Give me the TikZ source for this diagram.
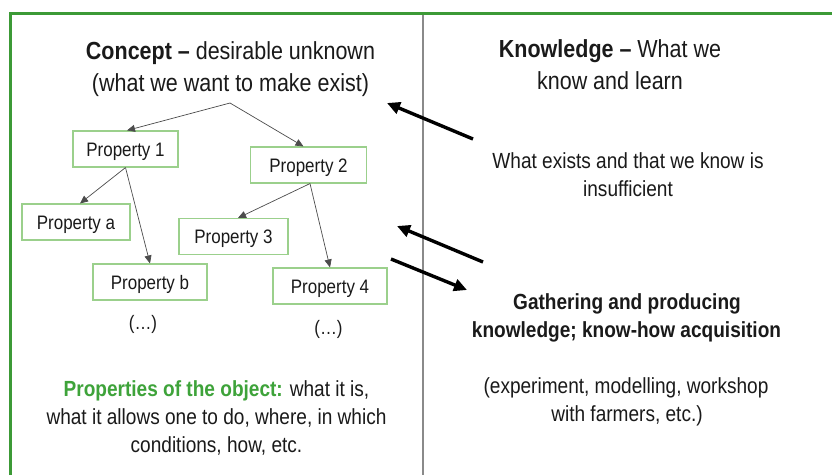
\documentclass[tikz,border=0pt]{standalone}
\usepackage{fontspec}
\setmainfont{Liberation Sans}[FakeStretch=0.87]
\usetikzlibrary{arrows.meta}
\definecolor{framegreen}{HTML}{3C9A36}
\definecolor{boxgreen}{HTML}{9BD08C}
\definecolor{textgreen}{HTML}{3EA33A}
\definecolor{divgray}{HTML}{8A8A8A}
\definecolor{ink}{HTML}{1A1A1A}
\begin{document}
\begin{tikzpicture}[x=1pt,y=-1pt,
  prop/.style={draw=boxgreen,line width=1.1pt,minimum height=36pt,inner sep=0pt,
    text height=14pt,text depth=0pt,
    font=\fontsize{19.5}{22}\selectfont,text=ink},
  treearrow/.style={draw=black!70,line width=0.7pt,-{Triangle[length=8pt,width=7pt]}},
  thickarrow/.style={draw=black,line width=3.4pt,-{Triangle[length=13pt,width=12pt]}},
  ttl/.style={anchor=base,inner sep=0pt,text=ink,font=\fontsize{24.7}{28}\selectfont},
  body/.style={anchor=base,inner sep=0pt,text=ink,font=\fontsize{21.9}{25}\selectfont},
  dots/.style={anchor=base,inner sep=0pt,text=ink,font=\fontsize{19.5}{22}\selectfont}
]
\useasboundingbox (0,0) rectangle (832,475);
\fill[white] (0,0) rectangle (832,475);
% frame and divider
\draw[framegreen,line width=3pt] (10,475) -- (10,13) -- (832,13);
\draw[divgray,line width=1.3pt] (423,15) -- (423,475);

% left title
\node[ttl] (c1) at (230.5,59) {\textbf{Concept –} desirable unknown};
\node[ttl] (c2) at (230.5,91) {(what we want to make exist)};
\coordinate (apex) at (230,103);

% property boxes
\node[prop,minimum width=105pt] (p1) at (125.5,149) {Property 1};
\node[prop,minimum width=116pt] (p2) at (308.5,165) {Property 2};
\node[prop,minimum width=108pt] (pa) at (76,222) {Property a};
\node[prop,minimum width=109pt] (p3) at (233.5,236.5) {Property 3};
\node[prop,minimum width=114pt] (pb) at (150,282) {Property b};
\node[prop,minimum width=114pt] (p4) at (330,286) {Property 4};

\draw[treearrow] (apex) -- ([xshift=1.5pt]p1.north);
\draw[treearrow] (apex) -- ([xshift=-5pt]p2.north);
\draw[treearrow] (p1.south) -- ([xshift=4pt]pa.north);
\draw[treearrow] (p1.south) -- (pb.north);
\draw[treearrow] ([xshift=1.5pt]p2.south) -- ([xshift=4.5pt]p3.north);
\draw[treearrow] ([xshift=1.5pt]p2.south) -- (p4.north);

\node[dots] (d1) at (143,329) {(…)};
\node[dots] (d2) at (328.5,334) {(…)};

% bottom left text
\node[body] (l1) at (216.5,396) {\textcolor{textgreen}{\textbf{Properties of the object:}} what it is,};
\node[body] (l2) at (216.5,424) {what it allows one to do, where, in which};
\node[body] (l3) at (216.5,452) {conditions, how, etc.};

% right side
\node[ttl] (k1) at (610,57) {\textbf{Knowledge –} What we};
\node[ttl] (k2) at (610,89) {know and learn};
\node[body] (w1) at (628,168) {What exists and that we know is};
\node[body] (w2) at (628,196) {insufficient};
\node[body] (g1) at (627,309) {\textbf{Gathering and producing}};
\node[body] (g2) at (626.5,337) {\textbf{knowledge; know-how acquisition}};
\node[body] (e1) at (626,393) {(experiment, modelling, workshop};
\node[body] (e2) at (627,421) {with farmers, etc.)};

% thick arrows
\coordinate (a1s) at (473,139);
\coordinate (a1e) at (387,103);
\coordinate (a2s) at (483,262);
\coordinate (a2e) at (397,226);
\coordinate (a3s) at (391,259);
\coordinate (a3e) at (467,290);
\draw[thickarrow] (a1s) -- (a1e);
\draw[thickarrow] (a2s) -- (a2e);
\draw[thickarrow] (a3s) -- (a3e);
\end{tikzpicture}
\end{document}
